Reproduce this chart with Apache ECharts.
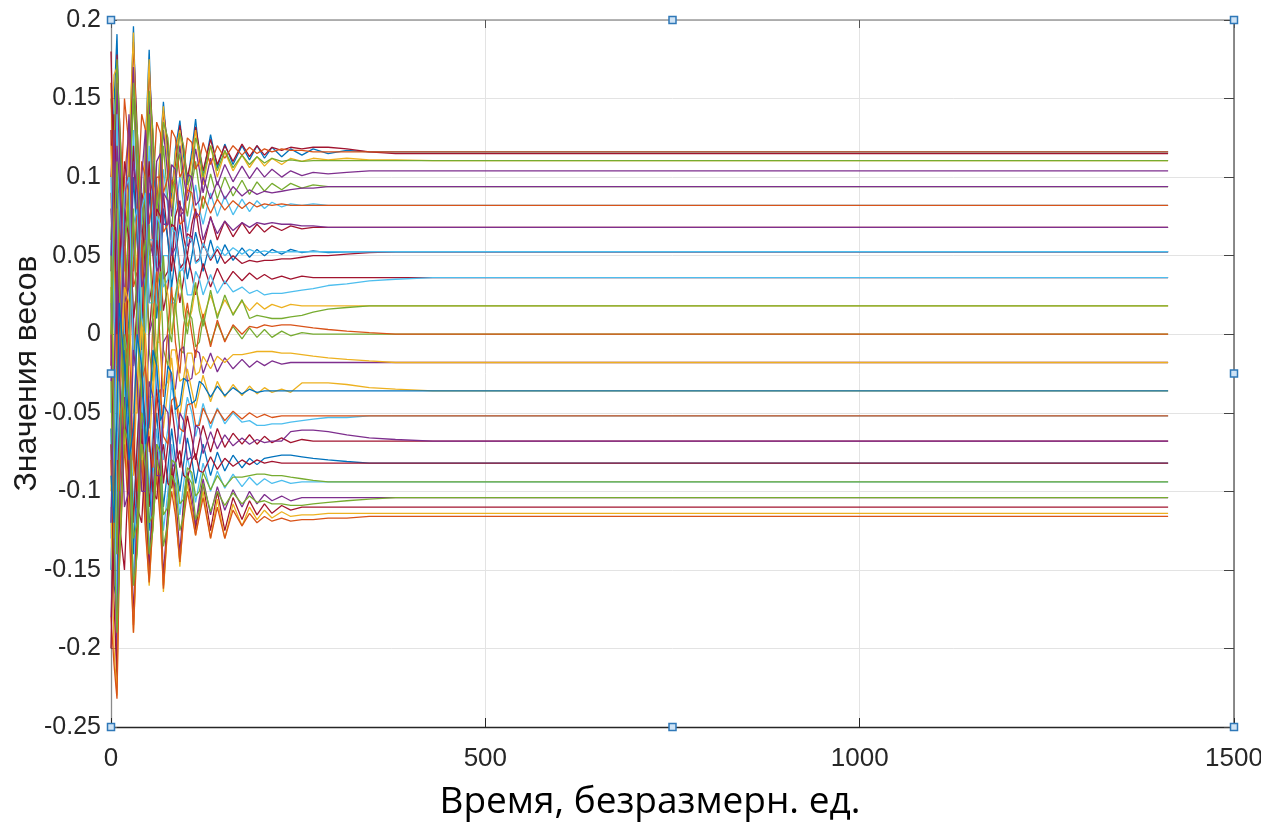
<!DOCTYPE html>
<html><head><meta charset="utf-8">
<script src="https://cdn.jsdelivr.net/npm/echarts@6/dist/echarts.min.js"></script>
<style>html,body{margin:0;padding:0;background:#fff}#chart{width:1261px;height:825px}</style>
</head><body><div id="chart"></div>
<script>
// time samples (shared x values)
const timePoints = [0,4,8,11,18,24,30,35,41,46,51,56,61,66,70,76,81,86,92,97,102,108,113,118,123,133,142,152,163,175,185,195,205,215,228,240,255,270,290,315,345,380,430,500,600,800,1412];

// weight trajectories
const w01 = [0.05,0.146,0.191,0.126,0.056,0.106,0.196,0.112,0.066,0.12,0.181,0.11,0.076,0.12,0.148,0.112,0.086,0.118,0.136,0.113,0.096,0.117,0.137,0.114,0.101,0.127,0.106,0.121,0.108,0.12,0.111,0.12,0.112,0.119,0.113,0.118,0.114,0.118,0.115,0.117,0.116,0.116,0.116,0.116,0.116,0.116,0.116];
const w02 = [-0.02,0.09,0.178,0.14,0.07,0.09,0.186,0.13,0.075,0.1,0.17,0.125,0.085,0.105,0.142,0.12,0.092,0.108,0.133,0.118,0.1,0.112,0.132,0.118,0.104,0.124,0.108,0.12,0.11,0.121,0.113,0.12,0.114,0.119,0.117,0.119,0.118,0.119,0.119,0.118,0.116,0.115,0.115,0.115,0.115,0.115,0.115];
const w03 = [0.12,0.165,0.17,0.1,0.04,0.12,0.192,0.1,0.05,0.12,0.175,0.1,0.07,0.12,0.145,0.105,0.08,0.115,0.13,0.105,0.09,0.112,0.13,0.11,0.095,0.12,0.1,0.116,0.104,0.114,0.106,0.113,0.107,0.112,0.108,0.112,0.11,0.112,0.111,0.112,0.111,0.111,0.1105,0.1105,0.1105,0.1105,0.1105];
const w04 = [0.08,0.03,0.16,0.12,0.02,0.07,0.17,0.09,0.04,0.1,0.15,0.09,0.06,0.1,0.13,0.1,0.075,0.095,0.12,0.1,0.085,0.1,0.118,0.105,0.09,0.112,0.095,0.108,0.097,0.107,0.099,0.106,0.1,0.105,0.1,0.104,0.101,0.103,0.102,0.103,0.104,0.104,0.104,0.104,0.104,0.104,0.104];
const w05 = [0.15,0.1,0.13,0.06,-0.01,0.08,0.15,0.1,0.03,0.085,0.14,0.08,0.05,0.09,0.12,0.085,0.065,0.1,0.115,0.09,0.075,0.095,0.11,0.092,0.08,0.102,0.086,0.1,0.088,0.098,0.089,0.097,0.091,0.096,0.092,0.096,0.093,0.095,0.094,0.094,0.094,0.094,0.094,0.094,0.094,0.094,0.094];
const w06 = [-0.05,0.06,0.14,0.08,0.0,0.04,0.13,0.07,0.01,0.06,0.12,0.07,0.04,0.075,0.105,0.08,0.05,0.08,0.1,0.082,0.065,0.08,0.095,0.08,0.07,0.09,0.075,0.088,0.076,0.086,0.078,0.085,0.08,0.084,0.081,0.083,0.082,0.083,0.082,0.082,0.082,0.082,0.082,0.082,0.082,0.082,0.082];
const w07 = [0.1,0.14,0.09,0.03,-0.04,0.05,0.12,0.06,0.0,0.07,0.11,0.05,0.02,0.07,0.09,0.06,0.04,0.075,0.085,0.062,0.05,0.07,0.08,0.064,0.055,0.075,0.06,0.072,0.062,0.071,0.064,0.07,0.065,0.069,0.066,0.069,0.067,0.068,0.068,0.068,0.068,0.068,0.068,0.068,0.068,0.068,0.068];
const w08 = [0.02,-0.05,0.1,0.08,-0.03,0.01,0.1,0.06,-0.01,0.04,0.09,0.06,0.01,0.04,0.08,0.06,0.03,0.05,0.07,0.055,0.035,0.05,0.065,0.055,0.04,0.06,0.045,0.057,0.047,0.055,0.049,0.054,0.05,0.054,0.051,0.054,0.052,0.053,0.052,0.0525,0.0525,0.0525,0.0525,0.0525,0.0525,0.0525,0.0525];
const w09 = [0.13,0.05,-0.03,0.0,0.08,0.06,-0.02,0.02,0.07,0.05,0.0,0.03,0.06,0.04,0.015,0.03,0.055,0.04,0.02,0.035,0.05,0.038,0.025,0.035,0.045,0.03,0.042,0.032,0.04,0.034,0.039,0.035,0.038,0.035,0.037,0.035,0.037,0.036,0.036,0.036,0.036,0.036,0.036,0.036,0.036,0.036,0.036];
const w10 = [-0.1,0.0,0.08,0.06,-0.04,-0.01,0.07,0.04,-0.03,0.0,0.05,0.03,-0.01,0.01,0.04,0.025,0.0,0.015,0.035,0.02,0.005,0.015,0.03,0.02,0.01,0.025,0.012,0.022,0.013,0.021,0.015,0.02,0.016,0.019,0.017,0.019,0.018,0.018,0.018,0.018,0.018,0.018,0.018,0.018,0.018,0.018,0.018];
const w11 = [0.06,0.11,0.02,-0.05,0.05,0.09,0.01,-0.04,0.04,0.06,-0.01,-0.03,0.03,0.04,-0.01,-0.02,0.025,0.02,-0.01,-0.012,0.015,0.01,-0.008,-0.005,0.01,-0.006,0.007,-0.004,0.005,-0.003,0.004,-0.002,0.003,-0.002,0.002,-0.001,0.001,0.0,0.0,0.0,0.0,0.0,0.0,0.0,0.0,0.0,0.0];
const w12 = [-0.15,-0.08,0.02,0.04,-0.06,-0.08,0.01,0.03,-0.05,-0.06,0.0,0.01,-0.04,-0.045,-0.005,0.0,-0.035,-0.035,-0.01,-0.008,-0.03,-0.028,-0.01,-0.012,-0.025,-0.012,-0.024,-0.015,-0.022,-0.016,-0.021,-0.017,-0.02,-0.017,-0.019,-0.018,-0.018,-0.018,-0.018,-0.018,-0.018,-0.018,-0.018,-0.018,-0.018,-0.018,-0.018];
const w13 = [0.03,-0.07,-0.1,-0.02,0.03,-0.03,-0.09,-0.03,0.01,-0.04,-0.075,-0.03,-0.005,-0.04,-0.06,-0.035,-0.015,-0.04,-0.052,-0.035,-0.022,-0.036,-0.047,-0.036,-0.026,-0.043,-0.03,-0.04,-0.032,-0.039,-0.033,-0.038,-0.034,-0.037,-0.035,-0.037,-0.031,-0.031,-0.031,-0.032,-0.034,-0.035,-0.036,-0.036,-0.036,-0.036,-0.036];
const w14 = [-0.13,-0.02,-0.12,-0.09,0.0,-0.03,-0.11,-0.07,-0.01,-0.04,-0.1,-0.06,-0.02,-0.05,-0.08,-0.06,-0.03,-0.05,-0.07,-0.055,-0.04,-0.05,-0.065,-0.055,-0.044,-0.06,-0.047,-0.057,-0.05,-0.056,-0.055,-0.058,-0.058,-0.057,-0.057,-0.056,-0.055,-0.054,-0.053,-0.053,-0.052,-0.052,-0.052,-0.052,-0.052,-0.052,-0.052];
const w15 = [0.0,-0.1,-0.14,-0.05,0.02,-0.05,-0.12,-0.07,-0.02,-0.06,-0.11,-0.07,-0.035,-0.065,-0.095,-0.07,-0.045,-0.065,-0.085,-0.068,-0.052,-0.066,-0.08,-0.068,-0.058,-0.075,-0.06,-0.072,-0.063,-0.07,-0.064,-0.07,-0.065,-0.069,-0.066,-0.069,-0.067,-0.068,-0.068,-0.068,-0.068,-0.068,-0.068,-0.068,-0.068,-0.068,-0.068];
const w16 = [-0.06,-0.16,-0.17,-0.07,-0.01,-0.06,-0.14,-0.09,-0.03,-0.07,-0.125,-0.08,-0.05,-0.08,-0.11,-0.085,-0.06,-0.08,-0.1,-0.082,-0.066,-0.08,-0.095,-0.082,-0.07,-0.09,-0.075,-0.087,-0.077,-0.085,-0.079,-0.083,-0.079,-0.078,-0.077,-0.077,-0.078,-0.079,-0.08,-0.081,-0.082,-0.082,-0.082,-0.082,-0.082,-0.082,-0.082];
const w17 = [-0.15,-0.05,-0.19,-0.12,-0.03,-0.07,-0.16,-0.1,-0.04,-0.08,-0.14,-0.09,-0.06,-0.09,-0.125,-0.1,-0.07,-0.09,-0.115,-0.095,-0.078,-0.092,-0.107,-0.094,-0.082,-0.1,-0.087,-0.098,-0.089,-0.097,-0.091,-0.096,-0.092,-0.095,-0.093,-0.095,-0.094,-0.094,-0.094,-0.094,-0.094,-0.094,-0.094,-0.094,-0.094,-0.094,-0.094];
const w18 = [-0.18,-0.12,-0.21,-0.1,-0.04,-0.09,-0.18,-0.11,-0.05,-0.1,-0.15,-0.1,-0.07,-0.1,-0.155,-0.11,-0.08,-0.1,-0.14,-0.105,-0.088,-0.103,-0.122,-0.105,-0.092,-0.115,-0.097,-0.112,-0.099,-0.11,-0.1,-0.108,-0.102,-0.106,-0.103,-0.106,-0.104,-0.104,-0.104,-0.104,-0.104,-0.104,-0.104,-0.104,-0.104,-0.104,-0.104];
const w19 = [-0.07,-0.17,-0.22,-0.13,-0.05,-0.1,-0.185,-0.12,-0.06,-0.11,-0.155,-0.11,-0.075,-0.11,-0.16,-0.115,-0.085,-0.108,-0.145,-0.11,-0.09,-0.11,-0.125,-0.11,-0.095,-0.125,-0.1,-0.125,-0.104,-0.118,-0.106,-0.115,-0.108,-0.114,-0.109,-0.112,-0.11,-0.11,-0.11,-0.11,-0.11,-0.11,-0.11,-0.11,-0.11,-0.11,-0.11];
const w20 = [-0.11,-0.2,-0.23,-0.14,-0.06,-0.11,-0.19,-0.13,-0.07,-0.12,-0.16,-0.12,-0.08,-0.115,-0.164,-0.12,-0.09,-0.11,-0.148,-0.115,-0.095,-0.112,-0.128,-0.114,-0.1,-0.13,-0.105,-0.13,-0.108,-0.122,-0.11,-0.118,-0.112,-0.117,-0.113,-0.116,-0.115,-0.115,-0.114,-0.114,-0.114,-0.114,-0.114,-0.114,-0.114,-0.114,-0.114];
const w21 = [-0.18,-0.21,-0.232,-0.15,-0.07,-0.12,-0.19,-0.125,-0.08,-0.125,-0.158,-0.12,-0.09,-0.12,-0.162,-0.12,-0.1,-0.115,-0.145,-0.118,-0.1,-0.115,-0.128,-0.116,-0.104,-0.13,-0.11,-0.13,-0.112,-0.122,-0.114,-0.12,-0.116,-0.119,-0.117,-0.119,-0.118,-0.118,-0.117,-0.117,-0.116,-0.116,-0.116,-0.116,-0.116,-0.116,-0.116];
const w22 = [0.16,0.08,-0.02,0.05,0.15,0.12,0.04,0.08,0.14,0.13,0.07,0.09,0.135,0.128,0.09,0.1,0.13,0.125,0.1,0.105,0.125,0.122,0.105,0.11,0.122,0.108,0.12,0.112,0.12,0.114,0.119,0.115,0.118,0.116,0.118,0.117,0.117,0.116,0.116,0.116,0.116,0.116,0.116,0.116,0.116,0.116,0.116];
const w23 = [0.0,0.12,0.05,-0.02,0.1,0.13,0.03,0.04,0.11,0.1,0.05,0.06,0.1,0.1,0.065,0.07,0.098,0.095,0.07,0.072,0.092,0.09,0.074,0.076,0.088,0.077,0.086,0.079,0.085,0.08,0.084,0.081,0.083,0.082,0.083,0.082,0.082,0.082,0.082,0.082,0.082,0.082,0.082,0.082,0.082,0.082,0.082];
const w24 = [-0.12,-0.04,0.06,0.09,0.0,-0.02,0.07,0.08,0.01,0.0,0.06,0.06,0.02,0.015,0.05,0.05,0.02,0.02,0.045,0.04,0.025,0.025,0.04,0.035,0.025,0.038,0.026,0.034,0.027,0.03,0.026,0.028,0.025,0.026,0.026,0.027,0.028,0.029,0.031,0.032,0.034,0.035,0.036,0.036,0.036,0.036,0.036];
const w25 = [0.09,0.02,-0.06,-0.1,-0.02,0.0,-0.08,-0.1,-0.03,-0.02,-0.07,-0.085,-0.04,-0.035,-0.065,-0.07,-0.042,-0.04,-0.06,-0.062,-0.045,-0.044,-0.058,-0.058,-0.047,-0.057,-0.048,-0.055,-0.049,-0.054,-0.05,-0.053,-0.051,-0.053,-0.052,-0.052,-0.052,-0.052,-0.052,-0.052,-0.052,-0.052,-0.052,-0.052,-0.052,-0.052,-0.052];
const w26 = [-0.2,-0.1,-0.05,-0.12,-0.15,-0.08,-0.06,-0.11,-0.12,-0.075,-0.065,-0.1,-0.105,-0.08,-0.07,-0.095,-0.098,-0.082,-0.074,-0.09,-0.092,-0.08,-0.076,-0.087,-0.088,-0.078,-0.086,-0.079,-0.084,-0.08,-0.083,-0.08,-0.082,-0.081,-0.082,-0.082,-0.082,-0.082,-0.082,-0.082,-0.082,-0.082,-0.082,-0.082,-0.082,-0.082,-0.082];
const w27 = [-0.08,-0.13,-0.05,0.05,0.07,-0.04,-0.08,0.02,0.06,-0.02,-0.06,0.01,0.04,-0.01,-0.04,0.005,0.03,-0.005,-0.025,0.005,0.02,0.0,-0.015,0.003,0.013,-0.008,0.009,-0.005,0.006,0.0,0.005,0.004,0.006,0.005,0.006,0.006,0.005,0.004,0.003,0.002,0.001,0.0,0.0,0.0,0.0,0.0,0.0];
const w28 = [0.18,0.1,0.0,0.04,0.11,0.09,0.01,0.03,0.09,0.08,0.02,0.035,0.08,0.075,0.035,0.04,0.07,0.068,0.042,0.045,0.064,0.062,0.046,0.048,0.058,0.047,0.054,0.045,0.05,0.045,0.047,0.046,0.047,0.047,0.048,0.048,0.049,0.05,0.05,0.051,0.052,0.0525,0.0525,0.0525,0.0525,0.0525,0.0525];
const w29 = [-0.03,0.04,0.12,0.1,0.02,0.03,0.11,0.09,0.03,0.04,0.1,0.09,0.04,0.045,0.09,0.085,0.05,0.055,0.082,0.078,0.056,0.06,0.078,0.075,0.06,0.074,0.064,0.072,0.066,0.071,0.068,0.071,0.07,0.071,0.07,0.07,0.069,0.069,0.068,0.068,0.068,0.068,0.068,0.068,0.068,0.068,0.068];
const w30 = [0.12,0.04,-0.06,-0.05,0.03,0.02,-0.05,-0.05,0.005,0.0,-0.04,-0.04,-0.005,-0.005,-0.035,-0.03,-0.01,-0.01,-0.03,-0.028,-0.012,-0.012,-0.026,-0.024,-0.014,-0.022,-0.014,-0.018,-0.013,-0.013,-0.012,-0.011,-0.011,-0.011,-0.012,-0.012,-0.013,-0.014,-0.015,-0.016,-0.017,-0.018,-0.018,-0.018,-0.018,-0.018,-0.018];
const w31 = [0.02,0.12,0.175,0.14,0.06,0.08,0.16,0.13,0.07,0.09,0.155,0.13,0.08,0.095,0.135,0.125,0.09,0.1,0.128,0.12,0.095,0.102,0.125,0.118,0.1,0.12,0.104,0.117,0.106,0.114,0.108,0.113,0.109,0.112,0.11,0.111,0.11,0.1105,0.1105,0.1105,0.1105,0.1105,0.1105,0.1105,0.1105,0.1105,0.1105];
const w32 = [-0.03,-0.13,-0.19,-0.15,-0.06,-0.07,-0.16,-0.14,-0.07,-0.085,-0.14,-0.125,-0.08,-0.09,-0.135,-0.12,-0.09,-0.095,-0.125,-0.115,-0.09,-0.095,-0.118,-0.112,-0.095,-0.113,-0.1,-0.109,-0.101,-0.108,-0.103,-0.107,-0.106,-0.108,-0.108,-0.109,-0.109,-0.108,-0.107,-0.106,-0.105,-0.104,-0.104,-0.104,-0.104,-0.104,-0.104];
const w33 = [0.1,0.02,-0.08,-0.03,0.09,0.1,-0.02,0.0,0.08,0.09,0.02,0.02,0.075,0.07,0.03,0.035,0.068,0.065,0.04,0.042,0.062,0.06,0.045,0.047,0.058,0.048,0.056,0.05,0.055,0.051,0.054,0.052,0.053,0.052,0.0525,0.0525,0.0525,0.0525,0.0525,0.0525,0.0525,0.0525,0.0525,0.0525,0.0525,0.0525,0.0525];
const w34 = [-0.12,-0.03,0.04,-0.02,-0.11,-0.1,-0.01,-0.03,-0.1,-0.1,-0.03,-0.04,-0.09,-0.09,-0.045,-0.05,-0.085,-0.082,-0.05,-0.055,-0.08,-0.078,-0.058,-0.06,-0.076,-0.062,-0.073,-0.064,-0.071,-0.066,-0.07,-0.067,-0.069,-0.068,-0.068,-0.062,-0.061,-0.061,-0.062,-0.064,-0.066,-0.067,-0.068,-0.068,-0.068,-0.068,-0.068];
const w35 = [0.04,0.13,0.05,-0.03,0.07,0.14,0.06,0.02,0.1,0.13,0.06,0.05,0.11,0.115,0.07,0.07,0.108,0.105,0.075,0.078,0.102,0.1,0.082,0.085,0.1,0.086,0.097,0.086,0.094,0.088,0.092,0.089,0.091,0.09,0.091,0.092,0.093,0.093,0.094,0.094,0.094,0.094,0.094,0.094,0.094,0.094,0.094];
const w36 = [0.05,-0.06,-0.14,-0.08,0.0,-0.04,-0.13,-0.12,-0.05,-0.06,-0.12,-0.115,-0.07,-0.075,-0.115,-0.11,-0.08,-0.082,-0.108,-0.105,-0.085,-0.088,-0.103,-0.1,-0.088,-0.099,-0.09,-0.097,-0.091,-0.091,-0.09,-0.089,-0.089,-0.09,-0.09,-0.091,-0.092,-0.093,-0.094,-0.094,-0.094,-0.094,-0.094,-0.094,-0.094,-0.094,-0.094];
const w37 = [0.0,0.06,0.11,0.03,-0.06,0.0,0.08,0.0,-0.04,0.03,0.07,0.0,-0.02,0.03,0.05,0.005,-0.005,0.025,0.04,0.012,0.0,0.02,0.033,0.015,0.005,0.028,0.01,0.025,0.012,0.022,0.01,0.012,0.011,0.01,0.01,0.011,0.012,0.014,0.016,0.017,0.018,0.018,0.018,0.018,0.018,0.018,0.018];
const w38 = [-0.09,-0.12,-0.05,0.02,-0.02,-0.08,-0.06,0.0,-0.02,-0.07,-0.055,-0.01,-0.02,-0.055,-0.05,-0.02,-0.025,-0.048,-0.045,-0.028,-0.03,-0.044,-0.042,-0.03,-0.032,-0.04,-0.033,-0.039,-0.034,-0.038,-0.035,-0.037,-0.036,-0.036,-0.036,-0.036,-0.036,-0.036,-0.036,-0.036,-0.036,-0.036,-0.036,-0.036,-0.036,-0.036,-0.036];

const weightSeries = [w01,w02,w03,w04,w05,w06,w07,w08,w09,w10,w11,w12,w13,w14,w15,w16,w17,w18,w19,w20,w21,w22,w23,w24,w25,w26,w27,w28,w29,w30,w31,w32,w33,w34,w35,w36,w37,w38];
const seriesColorNames = ['blue','red','yellow','purple','green','cyan','red','blue','red','yellow','green','purple','yellow','cyan','red','blue','cyan','purple','red','yellow','orange','orange','orange','cyan','orange','red','orange','red','purple','yellow','green','green','cyan','purple','purple','green','green','blue'];

// axis ranges / ticks
const xRange = [0, 1500];
const xInterval = 500;
const yRange = [-0.25, 0.2];
const yInterval = 0.05;

// MATLAB-style selection handles on the axes box
const handlePoints = [[0,0.2],[750,0.2],[1500,0.2],[0,-0.025],[1500,-0.025],[0,-0.25],[750,-0.25],[1500,-0.25]];

const xTitle = 'Время, безразмерн. ед.';
const yTitle = 'Значения весов';

const palette = {blue:'#0072BD', orange:'#D95319', yellow:'#EDB120', purple:'#7E2F8E', green:'#77AC30', cyan:'#4DBEEE', red:'#A2142F'};

const chart = echarts.init(document.getElementById('chart'), null, {renderer:'canvas'});

const lineSeries = weightSeries.map((arr, i) => ({
  type: 'line',
  data: arr.map((v, j) => [timePoints[j], v]),
  showSymbol: false,
  symbol: 'none',
  silent: true,
  lineStyle: {width: 1.3, color: palette[seriesColorNames[i]]},
  itemStyle: {color: palette[seriesColorNames[i]]},
  z: 2
}));

const yFmt = v => String(Math.round(v * 100) / 100);
const xFmt = v => String(Math.round(v));

chart.setOption({
  animation: false,
  backgroundColor: '#ffffff',
  grid: {left: 111, right: 27, top: 20, bottom: 98, show: false, containLabel: false, outerBoundsMode: 'none'},
  xAxis: [{
    type: 'value', min: xRange[0], max: xRange[1], interval: xInterval, position: 'bottom',
    axisLine: {show: true, onZero: false, lineStyle: {color: '#262626', width: 1.3}},
    axisTick: {show: true, inside: true, length: 9, lineStyle: {color: '#262626'}},
    axisLabel: {fontFamily: 'Liberation Sans', fontSize: 26, color: '#262626', margin: 19, formatter: xFmt},
    splitLine: {show: true, lineStyle: {color: '#e3e3e3', width: 1}},
    name: xTitle, nameLocation: 'middle', nameGap: 57, nameMoveOverlap: false,
    nameTextStyle: {fontFamily: 'Open Sans', fontSize: 37, color: '#000000', padding: [0, 45, 0, 0]}
  }, {
    type: 'value', min: xRange[0], max: xRange[1], interval: xInterval, position: 'top',
    axisLine: {show: true, onZero: false, lineStyle: {color: '#9a9a9a', width: 1.5}},
    axisTick: {show: true, inside: true, length: 8, lineStyle: {color: '#555'}},
    axisLabel: {show: false}, splitLine: {show: false}
  }],
  yAxis: [{
    type: 'value', min: yRange[0], max: yRange[1], interval: yInterval, position: 'left',
    axisLine: {show: true, onZero: false, lineStyle: {color: '#8a8a8a', width: 1.3}},
    axisTick: {show: true, inside: true, length: 6, lineStyle: {color: '#555'}},
    axisLabel: {fontFamily: 'Liberation Sans', fontSize: 25, color: '#262626', margin: 10, formatter: yFmt},
    splitLine: {show: true, lineStyle: {color: '#e3e3e3', width: 1}},
    name: yTitle, nameLocation: 'middle', nameRotate: 90, nameGap: 68, nameMoveOverlap: false,
    nameTextStyle: {fontFamily: 'Liberation Sans', fontSize: 32, color: '#1a1a1a'}
  }, {
    type: 'value', min: yRange[0], max: yRange[1], interval: yInterval, position: 'right',
    axisLine: {show: true, onZero: false, lineStyle: {color: '#666666', width: 1.5}},
    axisTick: {show: true, inside: true, length: 10, lineStyle: {color: '#444'}},
    axisLabel: {show: false}, splitLine: {show: false}
  }],
  series: lineSeries.concat([{
    type: 'scatter',
    data: handlePoints,
    symbol: 'rect',
    symbolSize: 7,
    clip: false,
    silent: true,
    itemStyle: {color: '#cfe3f5', borderColor: '#2f78b8', borderWidth: 1.5, opacity: 1},
    z: 10
  }])
});
</script>
</body></html>
